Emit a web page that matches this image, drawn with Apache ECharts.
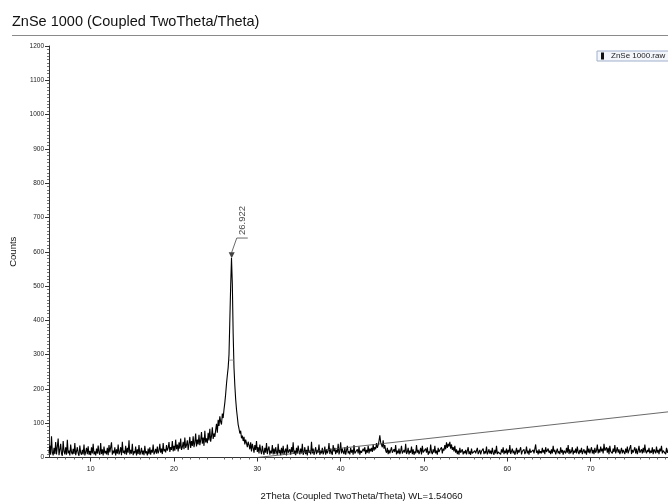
<!DOCTYPE html>
<html>
<head>
<meta charset="utf-8">
<script src="https://cdn.jsdelivr.net/npm/echarts@6/dist/echarts.min.js"></script>
<style>
html,body{margin:0;padding:0;background:#fff;}
#chart{width:668px;height:501px;}
</style>
</head>
<body>
<div id="chart"></div>
<script>
// ---- data ----
const titleText = 'ZnSe 1000 (Coupled TwoTheta/Theta)';
const seriesName = 'ZnSe 1000.raw';
const xName = '2Theta (Coupled TwoTheta/Theta) WL=1.54060';
const yName = 'Counts';
const thetaStart = 5.0;
const thetaStep = 0.1;
const counts = [
12,35,8,62,15,6,28,10,45,9,
14,55,7,22,40,11,5,48,18,9,
30,8,52,12,20,6,38,15,9,25,
10,42,7,18,30,12,5,35,14,8,
22,9,38,6,16,28,10,33,8,19,
7,30,12,40,9,18,6,26,11,35,
14,8,42,10,24,6,32,12,19,9,
28,7,36,15,10,44,8,20,12,30,
6,24,11,38,9,16,30,7,46,13,
20,10,34,8,28,14,50,9,22,11,
40,7,18,12,32,6,24,10,36,8,
15,28,9,20,7,34,12,18,6,26,
10,30,8,22,14,38,9,16,25,11,
32,12,20,40,14,26,10,42,18,24,
15,36,20,28,45,16,30,22,48,18,
34,20,52,24,38,18,44,26,55,22,
30,46,24,58,28,36,50,22,40,60,
28,48,34,62,30,44,70,32,52,38,
66,36,50,74,40,58,34,78,44,56,
42,72,50,84,46,62,88,54,70,60,
80,98,72,110,92,120,104,96,128,115,
140,160,185,215,240,262,300,400,500,582,
505,360,262,210,170,140,118,96,84,70,
78,56,64,48,60,38,52,42,30,46,
36,24,44,18,40,28,14,36,22,48,
16,30,12,38,20,10,34,18,8,28,
14,42,10,24,32,8,20,12,36,9,
26,10,30,16,8,40,12,22,7,28,
11,34,9,18,26,6,38,14,10,24,
8,30,15,44,10,20,7,28,12,35,
18,9,26,12,40,8,16,30,10,22,
6,34,14,20,9,46,12,26,8,18,
30,10,22,14,38,8,18,12,28,9,
16,32,8,24,12,20,42,10,26,14,
8,36,18,28,10,22,14,40,9,20,
44,12,26,16,10,30,8,20,34,12,
18,9,28,14,22,8,36,12,16,10,
24,12,32,8,20,14,10,26,18,30,
10,22,14,34,12,26,18,28,16,38,
20,30,24,42,28,36,48,65,44,40,
30,50,26,36,20,14,28,10,22,12,
8,30,14,10,24,16,36,9,20,12,
26,10,18,34,12,8,22,14,40,10,
16,28,9,20,14,32,10,24,8,18,
12,36,14,22,10,18,28,9,34,15,
20,10,26,14,30,8,18,12,38,16,
10,24,14,34,12,20,8,28,16,22,
18,30,12,26,20,36,24,44,28,40,
32,46,26,38,22,30,18,34,14,24,
10,20,8,28,14,12,24,9,18,12,
22,9,14,30,10,18,8,26,12,16,
8,20,12,16,28,10,14,22,9,18,
14,26,10,18,12,32,9,16,24,11,
20,10,28,14,8,22,12,34,10,16,
12,18,9,24,14,30,10,20,13,26,
9,22,14,36,10,18,26,12,20,8,
16,28,10,22,14,12,30,9,18,14,
24,10,16,32,12,20,8,26,14,18,
10,22,12,16,38,14,20,9,24,12,
18,12,28,14,22,10,30,16,12,26,
14,20,10,24,12,34,16,22,9,18,
26,12,18,10,30,14,22,8,20,16,
12,28,14,36,10,24,12,18,30,9,
20,14,26,12,32,16,10,22,14,28,
10,18,24,12,20,8,34,14,26,12,
16,30,12,22,10,28,14,20,38,12,
24,14,32,18,26,12,40,20,16,30,
14,28,10,34,18,22,12,26,16,36,
12,20,30,14,24,10,18,28,12,22,
18,10,26,14,32,12,20,16,36,10,
22,14,18,30,12,26,10,20,34,14,
16,24,12,28,14,38,18,12,22,16,
28,12,20,14,30,10,24,18,12,32,
14,22,10,26,18,34,12,20,16,24,
10,28,14,20,36,12,22,16,26,14,
18
];
const backgroundLine = [[30, 0], [80, 135]];
const peakMarker = [[26.922, 590]];
const peakLeader = [[26.922, 598], [27.53, 640], [28.85, 640]];
const peakLabelPos = [[28.19, 649]];
const peakLabel = '26.922';
const fwhmLine = [[26.56, 284], [27.18, 284]];
const xMin = 5, xMax = 80, xInterval = 5;
const xTickValues = [10, 20, 30, 40, 50, 60, 70, 80];
const yMin = 0, yMax = 1200, yInterval = 100;

// ---- build ----
const mainData = counts.map((v, i) => [+(thetaStart + i * thetaStep).toFixed(2), v]);
const FONT = '"Liberation Sans", Arial, Helvetica, sans-serif';

const chart = echarts.init(document.getElementById('chart'), null, {renderer: 'canvas'});
chart.setOption({
  animation: false,
  backgroundColor: '#fff',
  textStyle: {fontFamily: FONT},
  title: {
    text: titleText,
    left: 7, top: 9,
    textStyle: {fontFamily: FONT, fontSize: 14.5, fontWeight: 'normal', color: '#111'}
  },
  graphic: [{
    type: 'line', shape: {x1: 12, y1: 35.5, x2: 668, y2: 35.5},
    style: {stroke: '#8a8a8a', lineWidth: 1}, silent: true
  }],
  legend: {
    data: [seriesName],
    left: 597, top: 51,
    orient: 'vertical',
    padding: [1, 4, 1, 4],
    itemWidth: 3, itemHeight: 7,
    icon: 'rect',
    borderColor: '#9fb0cc', borderWidth: 1,
    backgroundColor: '#f3f6fb',
    borderRadius: 0,
    textStyle: {fontFamily: FONT, fontSize: 8, color: '#222', padding: [0, 0, 0, 2]},
    selectedMode: false
  },
  grid: {left: 49, right: -6, top: 46, bottom: 43.5, containLabel: false, outerBoundsMode: 'none'},
  xAxis: {
    type: 'value', min: xMin, max: xMax, interval: xInterval,
    name: xName, nameLocation: 'middle', nameGap: 34,
    nameTextStyle: {fontFamily: FONT, fontSize: 9.5, color: '#111'},
    axisLine: {show: true, onZero: false, lineStyle: {color: '#333', width: 1}},
    axisTick: {show: true, length: 4, customValues: xTickValues, lineStyle: {color: '#333'}},
    minorTick: {show: true, splitNumber: 5, length: 2, lineStyle: {color: '#666'}},
    axisLabel: {fontFamily: FONT, fontSize: 7, color: '#222', margin: 8,
      customValues: xTickValues, formatter: v => String(v)},
    splitLine: {show: false}
  },
  yAxis: {
    type: 'value', min: yMin, max: yMax, interval: yInterval,
    name: yName, nameLocation: 'middle', nameGap: 22,
    nameTextStyle: {fontFamily: FONT, fontSize: 9.5, color: '#111'},
    axisLine: {show: true, lineStyle: {color: '#333', width: 1}},
    axisTick: {show: true, length: 4, lineStyle: {color: '#333'}},
    minorTick: {show: true, splitNumber: 10, length: 2, lineStyle: {color: '#777'}},
    axisLabel: {fontFamily: FONT, fontSize: 6.5, color: '#222', margin: 5, formatter: v => String(v)},
    splitLine: {show: false}
  },
  series: [
    {
      name: seriesName, type: 'line', data: mainData,
      showSymbol: false, symbol: 'none',
      lineStyle: {color: '#000', width: 1.1},
      itemStyle: {color: '#111'},
      z: 3, silent: true
    },
    {
      name: 'bg', type: 'line', data: backgroundLine, showSymbol: false, symbol: 'none',
      lineStyle: {color: '#444', width: 0.8}, z: 4, silent: true
    },
    {
      name: 'fwhm', type: 'line', data: fwhmLine, showSymbol: false, symbol: 'none',
      lineStyle: {color: '#888', width: 0.8}, z: 4, silent: true
    },
    {
      name: 'leader', type: 'line', data: peakLeader, showSymbol: false, symbol: 'none',
      lineStyle: {color: '#444', width: 0.8}, z: 4, silent: true
    },
    {
      name: 'marker', type: 'scatter', data: peakMarker,
      symbol: 'triangle', symbolRotate: 180, symbolSize: [6, 6],
      itemStyle: {color: '#111'}, z: 5, silent: true
    },
    {
      name: 'peakText', type: 'scatter', data: peakLabelPos, symbolSize: 0,
      label: {show: true, formatter: peakLabel, rotate: 90, position: 'inside',
        align: 'left', verticalAlign: 'middle', fontFamily: FONT, fontSize: 9.5, color: '#111'},
      z: 5, silent: true
    }
  ]
});
</script>
</body>
</html>
